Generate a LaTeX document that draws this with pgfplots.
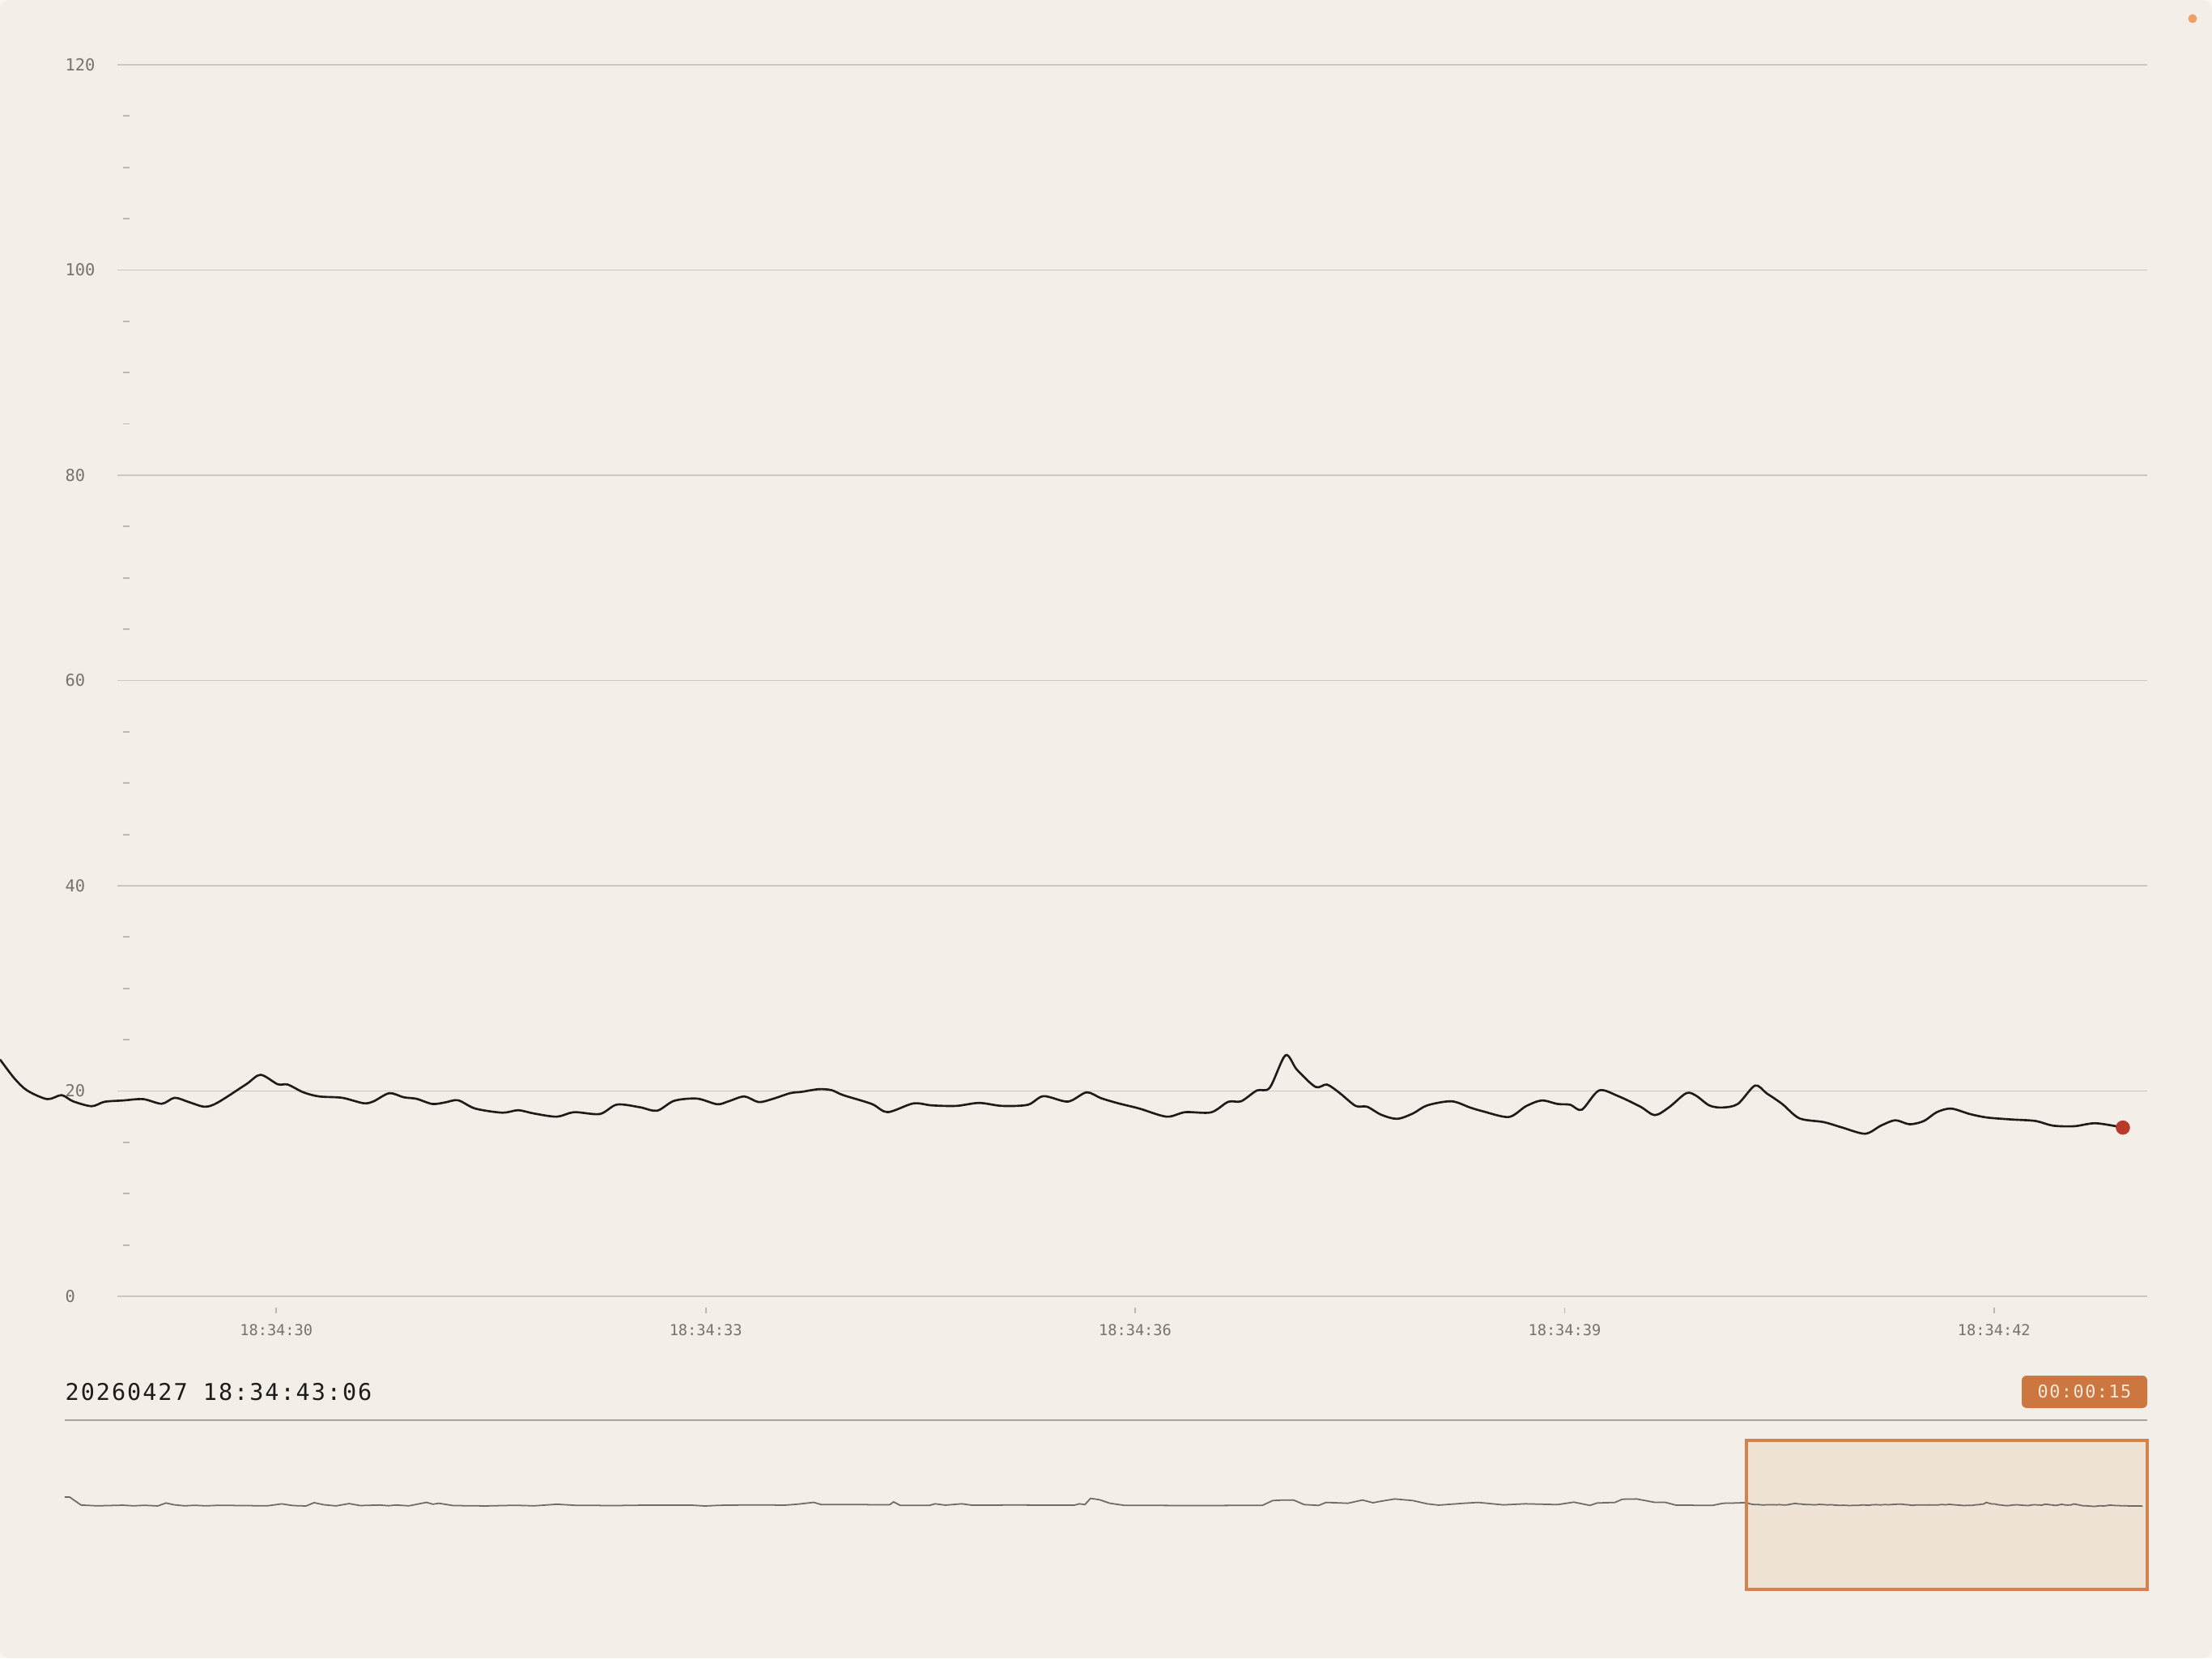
\documentclass[border=0pt]{standalone}
\usepackage{fontspec}
\setmainfont{DejaVu Sans Mono}
\newfontfamily\spacedmono[LetterSpace=7]{DejaVu Sans Mono}
\usepackage{pgfplots}
\usepackage{pgfplotstable}
\pgfplotsset{compat=1.18}

\definecolor{bg}{HTML}{F3EFE8}
\definecolor{outerbg}{HTML}{F8F6F2}
\definecolor{gridc}{HTML}{CBC6BF}
\definecolor{tickc}{HTML}{BDB7B0}
\definecolor{labelc}{HTML}{77726C}
\definecolor{linec}{HTML}{1E1C1A}
\definecolor{dotc}{HTML}{B83A2B}
\definecolor{sepc}{HTML}{A9A39C}
\definecolor{badge}{HTML}{CC773F}
\definecolor{badgetxt}{HTML}{F6EADF}
\definecolor{brushfill}{HTML}{EFE3D5}
\definecolor{brushline}{HTML}{D2824A}
\definecolor{minic}{HTML}{6F6A64}
\definecolor{cornerdot}{HTML}{F0A060}

% last 15 s, seconds after 18:34:00
\pgfplotstableread{
t v
28.07 23.08
28.17 21.24
28.26 20.05
28.40 19.21
28.50 19.60
28.58 19.00
28.71 18.52
28.80 18.95
28.93 19.08
29.07 19.21
29.20 18.76
29.29 19.34
29.39 18.92
29.50 18.47
29.59 18.87
29.79 20.66
29.89 21.58
30.01 20.66
30.08 20.63
30.19 19.87
30.30 19.47
30.46 19.34
30.61 18.81
30.68 19.00
30.79 19.79
30.89 19.39
30.98 19.24
31.09 18.74
31.18 18.89
31.27 19.10
31.39 18.29
31.58 17.89
31.69 18.13
31.80 17.81
31.96 17.50
32.08 17.94
32.26 17.76
32.38 18.68
32.54 18.42
32.66 18.08
32.78 19.05
32.94 19.26
33.08 18.71
33.16 19.00
33.27 19.47
33.37 18.92
33.47 19.24
33.59 19.79
33.67 19.92
33.79 20.18
33.88 20.08
33.96 19.60
34.16 18.74
34.27 17.94
34.45 18.79
34.58 18.60
34.75 18.55
34.91 18.84
35.07 18.55
35.25 18.66
35.36 19.50
35.53 18.97
35.66 19.87
35.76 19.31
35.88 18.81
36.03 18.29
36.22 17.50
36.35 17.94
36.53 17.92
36.65 18.95
36.74 19.00
36.85 20.05
36.94 20.32
37.05 23.48
37.13 22.08
37.26 20.40
37.34 20.63
37.43 19.79
37.54 18.55
37.62 18.47
37.72 17.68
37.83 17.29
37.94 17.81
38.04 18.60
38.21 19.00
38.34 18.39
38.43 18.02
38.61 17.47
38.73 18.52
38.84 19.08
38.95 18.74
39.04 18.66
39.12 18.18
39.24 20.05
39.37 19.53
39.53 18.47
39.63 17.65
39.73 18.42
39.85 19.79
39.92 19.53
40.01 18.60
40.10 18.39
40.21 18.74
40.33 20.53
40.41 19.79
40.52 18.74
40.64 17.34
40.81 16.97
40.94 16.44
41.10 15.84
41.21 16.63
41.31 17.15
41.41 16.76
41.51 17.08
41.60 17.94
41.70 18.29
41.83 17.76
41.95 17.42
42.12 17.23
42.29 17.08
42.41 16.63
42.56 16.57
42.71 16.86
42.90 16.44
}\maindata

% earlier history for the overview strip
\pgfplotstableread{
t v
-34.87 33.5
-34.69 33.5
-34.26 18.5
-33.66 17.0
-32.69 18.2
-32.30 17.0
-31.90 18.0
-31.39 16.8
-31.08 22.3
-30.78 19.0
-30.38 17.0
-30.02 18.0
-29.57 17.0
-29.11 18.0
-28.20 17.5
-27.29 17.0
-26.75 20.7
-26.33 17.5
-25.84 16.7
-25.54 22.9
-25.17 19.0
-24.72 16.9
-24.23 21.2
-23.81 17.5
-23.08 18.5
-22.75 17.2
-22.48 18.5
-21.99 17.0
-21.33 23.5
-21.09 20.0
-20.87 21.8
-20.33 17.5
-19.12 16.8
-18.02 18.0
-17.30 17.0
-16.45 20.0
-15.78 18.0
-14.27 17.5
-13.06 18.3
-11.42 18.3
-10.91 16.7
-10.37 18.0
-9.13 18.8
-7.92 18.3
-7.46 20.0
-6.84 23.5
-6.57 19.5
-5.18 19.3
-4.00 19.0
-3.85 24.4
-3.60 17.8
-2.51 17.8
-2.30 20.8
-1.91 18.3
-1.30 20.8
-0.93 18.3
0.58 18.5
2.92 18.3
3.10 20.8
3.31 19.3
3.52 31.0
3.86 28.4
4.25 21.8
4.80 17.8
7.55 17.6
9.95 17.8
10.34 26.9
10.73 27.9
11.12 27.9
11.52 19.3
12.06 17.8
12.34 23.4
12.82 22.5
13.15 21.8
13.70 27.9
14.09 22.8
14.36 25.4
14.91 29.9
15.58 26.9
16.12 20.8
16.55 18.3
17.49 21.8
18.03 23.4
18.97 18.8
19.79 20.8
21.00 19.3
21.61 23.9
22.21 17.8
22.48 22.3
23.15 23.4
23.42 29.4
23.96 29.9
24.65 23.4
25.04 23.4
25.43 18.3
26.80 17.8
27.19 21.8
27.65 22.3
28.07 23.08
}\histdata

\begin{document}
\begin{tikzpicture}
\fill[outerbg] (0,0) rectangle (27.32,20.48);
\fill[bg, rounded corners=0.12cm] (0,0) rectangle (27.32,20.48);
\useasboundingbox (0,0) rectangle (27.32,20.48);
\fill[cornerdot] (27.08,20.25) circle (0.055);

% grid, y labels
\begin{axis}[
  at={(1.45cm,4.47cm)}, anchor=south west, scale only axis,
  width=25.07cm, height=15.21cm,
  xmin=28.89, xmax=43.07, ymin=0, ymax=120,
  xtick=\empty, ytick={0,20,...,120}, minor y tick num=3,
  ymajorgrids, grid style={draw=gridc, line width=0.55pt},
  axis line style={draw=none},
  tick pos=left, tick align=inside,
  major tick length=0pt, minor tick length=0.08cm,
  minor tick style={draw=tickc, line width=0.5pt, xshift=0.07cm},
  yticklabel style={font=\fontsize{5.8}{7}\selectfont, text=labelc,
    anchor=west, inner sep=0pt, xshift=-0.65cm},
  /pgf/number format/assume math mode=true,
]
\end{axis}

% live curve
\begin{axis}[
  at={(0cm,4.47cm)}, anchor=south west, scale only axis,
  width=26.52cm, height=15.21cm,
  xmin=28.07, xmax=43.07, ymin=0, ymax=120,
  ytick=\empty, xtick={30,33,36,39,42},
  xticklabels={18:34:30,18:34:33,18:34:36,18:34:39,18:34:42},
  axis line style={draw=none},
  tick pos=left, tick align=outside, major tick length=0.07cm,
  major tick style={draw=tickc, line width=0.5pt, yshift=-0.14cm},
  xticklabel style={font=\fontsize{5.3}{6.5}\selectfont, text=labelc,
    anchor=north, inner sep=0pt, yshift=-0.265cm},
]
\addplot[linec, line width=0.75pt, smooth] table[x=t, y=v] {\maindata};
\addplot[only marks, mark=*, mark size=2.3pt, dotc] coordinates {(42.90,16.44)};
\end{axis}

\node[anchor=base west, inner sep=0pt, text=linec,
  font=\spacedmono\fontsize{8.1}{10}\selectfont] at (0.80,3.19) {20260427 18:34:43:06};
\draw[sepc, line width=0.55pt] (0.80,2.94) -- (26.52,2.94);
\fill[badge, rounded corners=0.06cm] (24.97,3.09) rectangle (26.52,3.49);
\node[inner sep=0pt, text=badgetxt, font=\spacedmono\fontsize{6.2}{8}\selectfont]
  at (25.745,3.29) {00:00:15};

% overview strip with brush
\begin{axis}[
  at={(0.80cm,0.85cm)}, anchor=south west, scale only axis,
  width=25.72cm, height=1.84cm,
  xmin=-34.87, xmax=43.07, ymin=-140, ymax=140,
  hide axis, clip=false,
]
\fill[brushfill] (axis cs:28.07,-140) rectangle (axis cs:43.07,140);
\addplot[minic, line width=0.5pt] table[x=t, y=v] {\histdata};
\addplot[minic, line width=0.5pt] table[x=t, y=v] {\maindata};
\draw[brushline, line width=1.1pt] (axis cs:28.07,-140) rectangle (axis cs:43.07,140);
\end{axis}
\end{tikzpicture}
\end{document}
